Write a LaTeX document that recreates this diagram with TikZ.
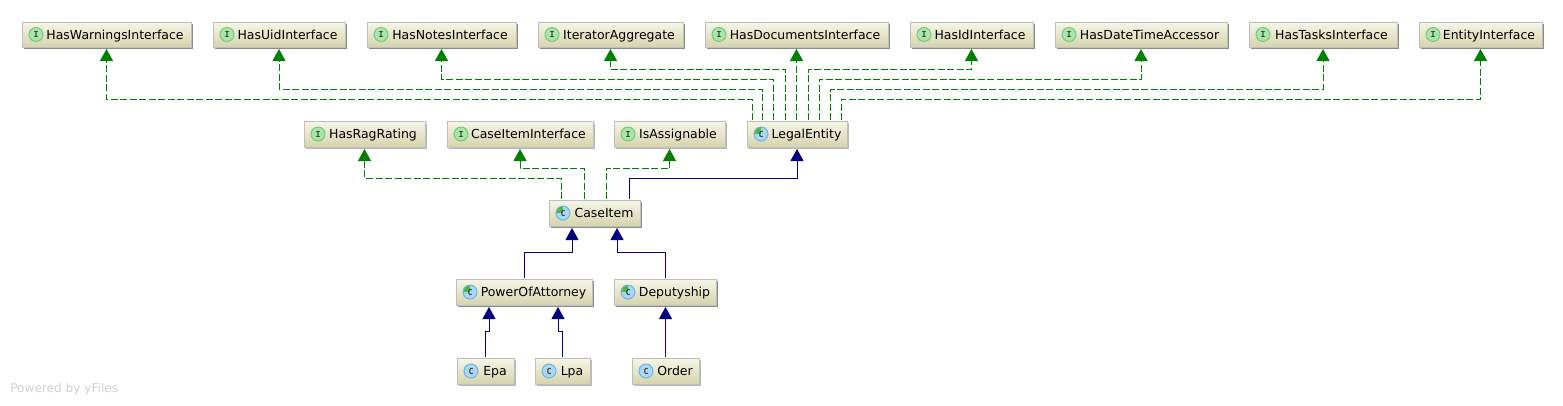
\documentclass[tikz,border=0pt]{standalone}
\usepackage{fontspec}
\setmainfont{DejaVu Sans}
\newfontfamily\iconfont{DejaVu Sans Mono}
\usetikzlibrary{arrows.meta,shadows,calc}
\newcommand{\pxu}{0.75pt}
\definecolor{implgreen}{HTML}{008000}
\definecolor{extblue}{HTML}{000080}
\definecolor{boxtop}{HTML}{F6F6E8}
\definecolor{boxbot}{HTML}{D6D4AC}
\definecolor{boxline}{HTML}{BEBEBE}
\definecolor{shadowdark}{HTML}{8C8C8C}
\definecolor{shadowlight}{HTML}{B8B8B8}
\definecolor{ifacefill}{HTML}{A6E6A6}
\definecolor{ifaceline}{HTML}{7CC67C}
\definecolor{classfill}{HTML}{A8D8F8}
\definecolor{classline}{HTML}{78B0D8}
\definecolor{abstgreen}{HTML}{4CB84C}
\tikzset{
  classbox/.style={draw=boxline,line width=\pxu,top color=boxtop,bottom color=boxbot,
    rectangle,inner sep=0pt,outer sep=0pt,text=black,text height=8.5pt,text depth=1.7pt,
    font=\fontsize{9.35pt}{11pt}\selectfont,
    drop shadow={shadow xshift=1.5*\pxu,shadow yshift=-1.5*\pxu,fill=#1,opacity=1}},
  classbox/.default=shadowdark,
  iconbase/.style={circle,line width=\pxu,minimum size=14*\pxu,inner sep=0pt,outer sep=0pt,
    font=\iconfont\fontsize{6.2pt}{6.5pt}\selectfont\bfseries,text=black!75},
  ifaceicon/.style={iconbase,draw=ifaceline,fill=ifacefill},
  plainicon/.style={iconbase,draw=classline,fill=classfill},
  absticon/.style={plainicon,path picture={
    \fill[abstgreen] (path picture bounding box.center) -- (path picture bounding box.west)
      -- (path picture bounding box.north west) -- (path picture bounding box.north) -- cycle;}},
  implarrow/.style={draw=implgreen,line width=\pxu,dash pattern=on 7*\pxu off 2.5*\pxu,
    -{Triangle[width=13*\pxu,length=12*\pxu,fill=implgreen,sep=0pt]},shorten >=2*\pxu,shorten <=\pxu},
  extarrow/.style={draw=extblue,line width=\pxu,
    -{Triangle[width=13*\pxu,length=12*\pxu,fill=extblue,sep=0pt]},shorten >=2*\pxu,shorten <=\pxu},
}
\newcommand{\umlbox}[9]{%
  \node[classbox=#9,minimum width={(#3-#2-1)*0.75pt},minimum height={(#5-#4-1)*0.75pt}]
    (#1) at ({(#2+#3-1)/2},{(#4+#5-1)/2}) {\hspace*{\boxpad}#6};
  \node[#7] (#1-icon) at ($(#1.west)+(14,0)$) {#8};}
\newcommand{\boxpad}{12.75pt}
\newcommand{\elbow}[4]{\draw[#1] #2 |- (#4.south |- 0,#3) -- (#4.south);}
\begin{document}
\begin{tikzpicture}[x=0.75pt,y=-0.75pt]
\useasboundingbox (0,0) rectangle (1563,405);
\fill[white] (0,0) rectangle (1563,405);
\renewcommand{\boxpad}{12.75pt}
\umlbox{warn}{22}{192}{22}{48}{HasWarningsInterface}{ifaceicon}{I}{shadowdark}
\umlbox{uid}{213}{346}{22}{48}{HasUidInterface}{ifaceicon}{I}{shadowdark}
\umlbox{notes}{367}{517}{22}{48}{HasNotesInterface}{ifaceicon}{I}{shadowdark}
\umlbox{iter}{538}{684}{22}{48}{IteratorAggregate}{ifaceicon}{I}{shadowdark}
\umlbox{docs}{705}{889}{22}{48}{HasDocumentsInterface}{ifaceicon}{I}{shadowdark}
\umlbox{hasid}{910}{1034}{22}{48}{HasIdInterface}{ifaceicon}{I}{shadowdark}
\umlbox{datetime}{1055}{1228}{22}{48}{HasDateTimeAccessor}{ifaceicon}{I}{shadowdark}
\umlbox{tasks}{1249}{1398}{22}{48}{HasTasksInterface}{ifaceicon}{I}{shadowdark}
\umlbox{entity}{1419}{1543}{22}{48}{EntityInterface}{ifaceicon}{I}{shadowdark}
\umlbox{rag}{304}{426}{121}{148}{HasRagRating}{ifaceicon}{I}{shadowlight}
\umlbox{caseiface}{447}{594}{121}{148}{CaseItemInterface}{ifaceicon}{I}{shadowlight}
\umlbox{assign}{614}{726}{121}{148}{IsAssignable}{ifaceicon}{I}{shadowlight}
\renewcommand{\boxpad}{14.25pt}
\umlbox{legal}{747}{848}{121}{148}{LegalEntity}{absticon}{C}{shadowlight}
\umlbox{caseitem}{549}{641}{200}{227}{CaseItem}{absticon}{C}{shadowdark}
\umlbox{poa}{456}{593}{279}{306}{PowerOfAttorney}{absticon}{C}{shadowdark}
\umlbox{deputy}{614}{717}{279}{306}{Deputyship}{absticon}{C}{shadowdark}
\umlbox{epa}{457}{515}{358}{385}{Epa}{plainicon}{C}{shadowlight}
\umlbox{lpa}{535}{591}{358}{385}{Lpa}{plainicon}{C}{shadowlight}
\umlbox{order}{632}{700}{358}{385}{Order}{plainicon}{C}{shadowlight}
\elbow{implarrow}{([xshift=-45*\pxu]legal.north)}{99}{warn}
\elbow{implarrow}{([xshift=-35*\pxu]legal.north)}{89}{uid}
\elbow{implarrow}{([xshift=-24*\pxu]legal.north)}{79}{notes}
\elbow{implarrow}{([xshift=-12*\pxu]legal.north)}{69}{iter}
\draw[implarrow] (docs.south |- legal.north) -- (docs.south);
\elbow{implarrow}{([xshift=11*\pxu]legal.north)}{69}{hasid}
\elbow{implarrow}{([xshift=22*\pxu]legal.north)}{79}{datetime}
\elbow{implarrow}{([xshift=33*\pxu]legal.north)}{89}{tasks}
\elbow{implarrow}{([xshift=44*\pxu]legal.north)}{99}{entity}
\elbow{implarrow}{([xshift=-33.5*\pxu]caseitem.north)}{178}{rag}
\elbow{implarrow}{([xshift=-10.5*\pxu]caseitem.north)}{168}{caseiface}
\elbow{implarrow}{([xshift=11.5*\pxu]caseitem.north)}{168}{assign}
\elbow{extarrow}{([xshift=34.5*\pxu]caseitem.north)}{178}{legal}
\coordinate (caseleft) at ([xshift=-22.5*\pxu]caseitem.south);
\coordinate (caseright) at ([xshift=22.5*\pxu]caseitem.south);
\coordinate (poaleft) at ([xshift=-35*\pxu]poa.south);
\coordinate (poaright) at ([xshift=34*\pxu]poa.south);
\draw[extarrow] (poa.north) |- (caseleft |- 0,252) -- (caseleft);
\draw[extarrow] (deputy.north) |- (caseright |- 0,252) -- (caseright);
\draw[extarrow] (epa.north) |- (poaleft |- 0,331) -- (poaleft);
\draw[extarrow] (lpa.north) |- (poaright |- 0,331) -- (poaright);
\draw[extarrow] (order.north) -- (order.north |- deputy.south);
\node[anchor=west,inner sep=0pt,text=black!18,font=\fontsize{9.1pt}{11pt}\selectfont] (powered) at (10,389) {Powered by yFiles};
\end{tikzpicture}
\end{document}
